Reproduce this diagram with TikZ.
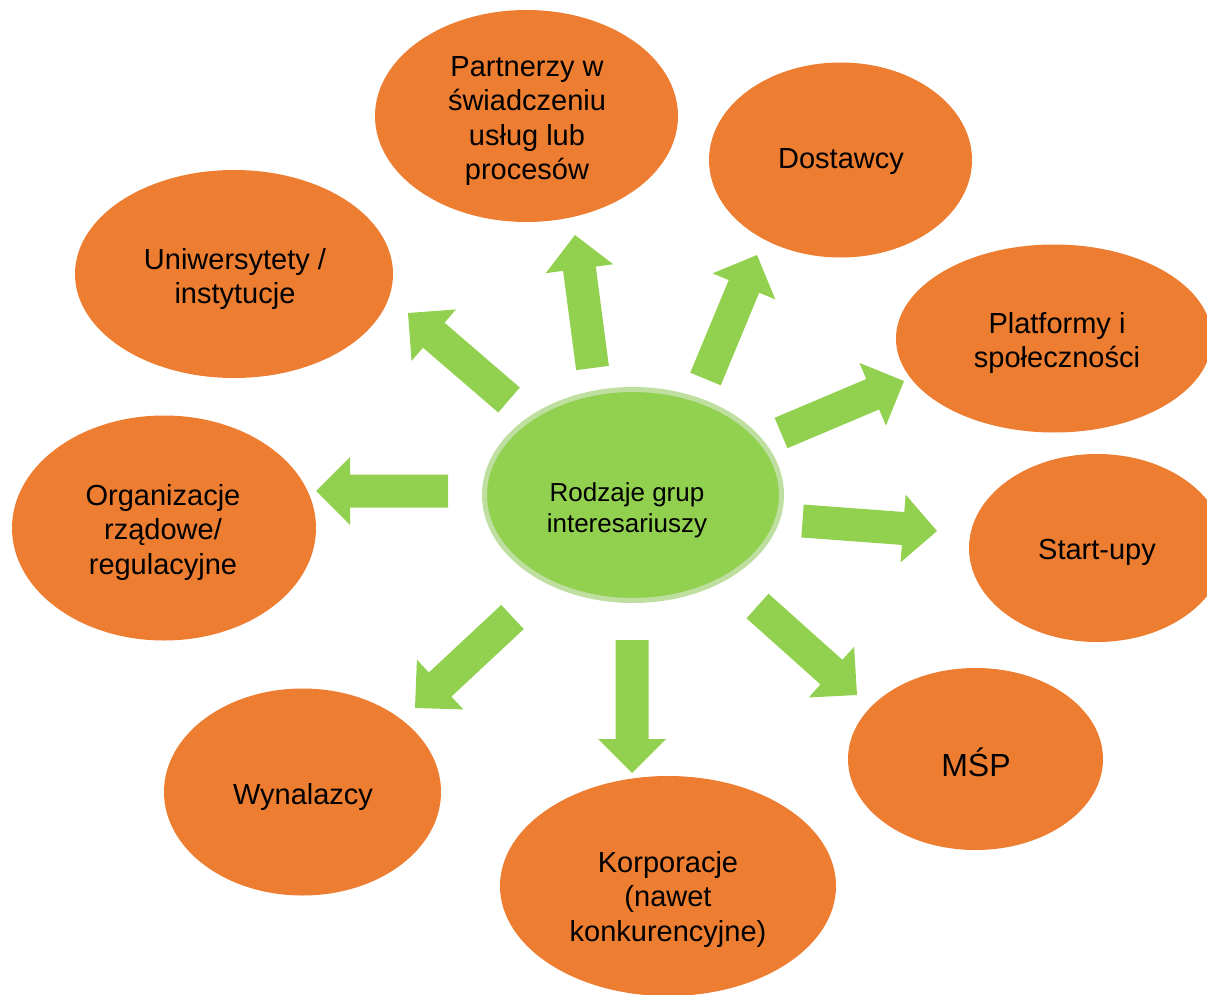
\documentclass[tikz,border=0pt]{standalone}
\usepackage{fontspec}
\setmainfont{Liberation Sans}
\usetikzlibrary{calc,shapes.geometric}
\definecolor{orangefill}{HTML}{ED7D31}
\definecolor{greenfill}{HTML}{92D050}
\definecolor{greenrim}{HTML}{BEDFA0}
\tikzset{
  outer/.style={ellipse, fill=orangefill, inner sep=0pt},
  hub/.style={ellipse, fill=greenfill, draw=greenrim, line width=5pt, inner sep=0pt},
  lbl/.style={align=center, font=\fontsize{29}{34.5}\selectfont, text=black, inner sep=0pt},
  hublbl/.style={align=center, font=\fontsize{26}{31}\selectfont, text=black, inner sep=0pt},
  arrowfill/.style={fill=greenfill},
}
\newcommand{\blockarr}[2]{%
  \fill[arrowfill] let \p1=($(#2)-(#1)$), \n1={atan2(\y1,\x1)}, \n2={veclen(\x1,\y1)-34pt} in
    ($(#1)+(\n1+90:16.5pt)$) -- ($(#1)+(\n1:\n2)+(\n1+90:16.5pt)$) --
    ($(#1)+(\n1:\n2)+(\n1+90:34pt)$) -- (#2) --
    ($(#1)+(\n1:\n2)+(\n1-90:34pt)$) -- ($(#1)+(\n1:\n2)+(\n1-90:16.5pt)$) --
    ($(#1)+(\n1-90:16.5pt)$) -- cycle;}
\begin{document}
\begin{tikzpicture}[x=1pt,y=1pt]
\useasboundingbox (0,0) rectangle (1207,-995);
\clip (0,0) rectangle (1207,-995);
% outer ellipses
\node[outer, minimum width=303pt, minimum height=212pt] (partn) at (526.5,-116) {};
\node[outer, minimum width=263pt, minimum height=195pt] (dost) at (840.5,-160) {};
\node[outer, minimum width=318pt, minimum height=208pt] (univ) at (234,-274) {};
\node[outer, minimum width=316pt, minimum height=188pt] (platf) at (1054,-338.5) {};
\node[outer, minimum width=304pt, minimum height=225pt] (organ) at (164,-528) {};
\node[outer, minimum width=256pt, minimum height=188pt] (start) at (1097,-548) {};
\node[outer, minimum width=277pt, minimum height=207pt] (wynal) at (302.5,-792) {};
\node[outer, minimum width=336pt, minimum height=220pt] (korp) at (668,-886) {};
\node[outer, minimum width=255pt, minimum height=182pt] (msp) at (975.5,-759) {};
% hub
\node[hub, minimum width=297pt, minimum height=211pt] (hub) at (633,-495) {};
% labels
\node[lbl] (tpartn) at (527,-121) {Partnerzy w\\świadczeniu\\usług lub\\procesów};
\node[lbl] (tdost) at (841,-162) {Dostawcy};
\node[lbl] (tuniv) at (235,-279) {Uniwersytety /\\instytucje};
\node[lbl] (tplatf) at (1057,-343) {Platformy i\\społeczności};
\node[lbl] (torgan) at (163,-532) {Organizacje\\rządowe/\\regulacyjne};
\node[lbl] (tstart) at (1097,-552) {Start-upy};
\node[lbl, font=\fontsize{32}{36}\selectfont] (tmsp) at (976,-762) {MŚP};
\node[lbl] (twynal) at (303,-797) {Wynalazcy};
\node[lbl] (tkorp) at (668,-899) {Korporacje\\(nawet\\konkurencyjne)};
\node[hublbl] (thub) at (627,-510) {Rodzaje grup\\interesariuszy};
% arrow end points
\coordinate (a1s) at (592.5,-368); \coordinate (a1e) at (575,-235);
\coordinate (a2s) at (705.5,-379); \coordinate (a2e) at (757,-255);
\coordinate (a3s) at (781,-433);   \coordinate (a3e) at (904,-381);
\coordinate (a4s) at (802.5,-521); \coordinate (a4e) at (937,-531);
\coordinate (a5s) at (757.5,-606); \coordinate (a5e) at (857,-695);
\coordinate (a6s) at (632,-640);   \coordinate (a6e) at (632,-773);
\coordinate (a7s) at (512.5,-617); \coordinate (a7e) at (415,-708);
\coordinate (a8s) at (448,-491);   \coordinate (a8e) at (316,-491);
\coordinate (a9s) at (509,-400);   \coordinate (a9e) at (408,-313);
\blockarr{a1s}{a1e}
\blockarr{a2s}{a2e}
\blockarr{a3s}{a3e}
\blockarr{a4s}{a4e}
\blockarr{a5s}{a5e}
\blockarr{a6s}{a6e}
\blockarr{a7s}{a7e}
\blockarr{a8s}{a8e}
\blockarr{a9s}{a9e}
\end{tikzpicture}
\end{document}
